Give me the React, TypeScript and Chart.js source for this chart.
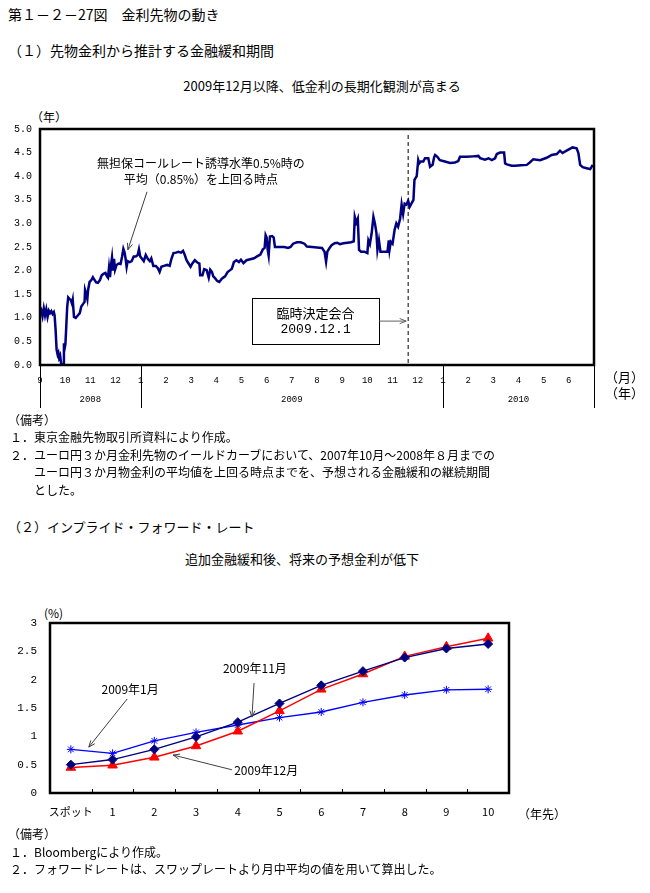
import React, { useEffect, useRef } from 'react';
import { Chart, registerables } from 'chart.js';

Chart.register(...registerables);

const JP = '"Noto Sans CJK JP", "Noto Sans", sans-serif';
const MONO = '"Liberation Mono", "DejaVu Sans Mono", monospace';

// ---------------- Panel (1) data ----------------
// x: months elapsed since 2008-09-01, y: implied easing period (years)
const FUTURES_MONTH = [
  0.00, 0.05, 0.10, 0.15, 0.20, 0.25, 0.30, 0.35, 0.40, 0.45, 0.50, 0.55, 0.58, 0.62, 0.66, 0.70, 0.73, 0.76, 0.80, 0.84,
  0.88, 0.93, 0.95, 0.98, 1.01, 1.04, 1.08, 1.12, 1.17, 1.22, 1.27, 1.30, 1.35, 1.42, 1.50, 1.58, 1.64, 1.72, 1.77, 1.79,
  1.84, 1.88, 1.91, 1.97, 2.04, 2.10, 2.17, 2.23, 2.30, 2.38, 2.45, 2.52, 2.60, 2.66, 2.70, 2.74, 2.78, 2.82, 2.86, 2.90,
  2.94, 2.98, 3.04, 3.12, 3.20, 3.26, 3.31, 3.36, 3.40, 3.44, 3.48, 3.56, 3.64, 3.72, 3.80, 3.88, 3.93, 3.98, 4.05, 4.12,
  4.20, 4.28, 4.36, 4.42, 4.50, 4.60, 4.68, 4.75, 4.82, 4.92, 5.05, 5.15, 5.22, 5.30, 5.40, 5.50, 5.60, 5.68, 5.75, 5.82,
  5.90, 5.98, 6.05, 6.15, 6.25, 6.33, 6.36, 6.45, 6.52, 6.62, 6.70, 6.76, 6.83, 6.88, 6.95, 7.04, 7.12, 7.22, 7.35, 7.45,
  7.55, 7.62, 7.70, 7.80, 7.90, 7.98, 8.08, 8.20, 8.35, 8.50, 8.62, 8.75, 8.85, 8.92, 8.96, 9.00, 9.04, 9.08, 9.13, 9.22,
  9.28, 9.33, 9.50, 9.70, 9.85, 9.95, 10.05, 10.20, 10.35, 10.50, 10.60, 10.80, 11.00, 11.20, 11.30, 11.36, 11.41, 11.50, 11.58, 11.70,
  11.80, 11.91, 12.05, 12.20, 12.35, 12.46, 12.50, 12.56, 12.62, 12.67, 12.75, 12.88, 13.00, 13.04, 13.10, 13.17, 13.24, 13.30, 13.36, 13.40,
  13.46, 13.52, 13.65, 13.80, 13.85, 13.88, 13.93, 14.00, 14.08, 14.15, 14.22, 14.30, 14.36, 14.42, 14.48, 14.55, 14.62, 14.68, 14.76, 14.83,
  14.87, 14.96, 15.02, 15.06, 15.12, 15.22, 15.29, 15.42, 15.49, 15.59, 15.65, 15.69, 15.78, 15.88, 16.08, 16.28, 16.48, 16.61, 16.68, 16.94,
  17.20, 17.41, 17.48, 17.67, 17.81, 17.94, 18.07, 18.14, 18.27, 18.43, 18.47, 18.54, 18.73, 18.86, 19.10, 19.33, 19.45, 19.59, 19.86, 20.12,
  20.32, 20.52, 20.65, 20.75, 20.91, 21.15, 21.31, 21.38, 21.45, 21.55, 21.71, 21.85, 21.95,
];
const FUTURES_YEARS = [
  1.08, 1.15, 1.03, 1.20, 1.05, 1.18, 1.02, 1.15, 1.10, 1.14, 1.08, 1.12, 1.05, 0.74, 0.32, 0.22, 0.26, 0.15, 0.20, 0.03,
  0.00, 0.00, 0.46, 0.36, 0.45, 0.78, 1.23, 1.43, 1.40, 1.38, 1.30, 1.38, 1.02, 1.00, 1.05, 1.10, 1.24, 1.30, 1.34, 1.59,
  1.50, 1.40, 1.59, 1.76, 1.80, 1.86, 1.80, 1.75, 1.74, 1.80, 1.90, 1.93, 1.95, 1.88, 1.85, 2.06, 1.86, 2.12, 2.28, 2.00,
  2.25, 2.02, 2.12, 2.15, 2.14, 2.30, 2.46, 2.38, 2.25, 2.08, 2.20, 2.18, 2.20, 2.30, 2.30, 2.33, 2.45, 2.30, 2.25, 2.20,
  2.33, 2.25, 2.20, 2.26, 2.10, 2.10, 2.05, 1.97, 2.08, 2.10, 2.12, 2.10, 2.25, 2.37, 2.38, 2.40, 2.38, 2.42, 2.33, 2.22,
  2.15, 2.08, 2.15, 2.22, 2.17, 2.15, 1.90, 1.90, 2.03, 2.01, 1.85, 2.02, 1.97, 1.88, 1.84, 1.78, 1.76, 1.83, 1.88, 1.97,
  2.01, 2.04, 2.18, 2.22, 2.18, 2.23, 2.16, 2.22, 2.24, 2.26, 2.30, 2.34, 2.45, 2.48, 2.75, 2.70, 2.45, 2.32, 2.72, 2.73,
  2.70, 2.50, 2.50, 2.50, 2.48, 2.50, 2.57, 2.60, 2.60, 2.57, 2.51, 2.50, 2.49, 2.48, 2.40, 2.19, 2.40, 2.48, 2.54, 2.58,
  2.59, 2.56, 2.58, 2.59, 2.60, 2.62, 3.14, 3.02, 3.10, 2.44, 2.40, 2.40, 2.37, 2.64, 2.56, 2.79, 3.14, 3.00, 2.80, 2.44,
  2.64, 2.40, 2.40, 2.40, 2.64, 2.44, 2.61, 2.57, 2.86, 3.00, 2.93, 3.10, 3.40, 3.20, 3.42, 3.40, 3.48, 3.35, 3.43, 3.50,
  3.92, 4.00, 4.34, 4.27, 4.31, 4.31, 4.38, 4.38, 4.20, 4.24, 4.40, 4.45, 4.41, 4.34, 4.31, 4.28, 4.29, 4.32, 4.41, 4.41,
  4.42, 4.43, 4.38, 4.35, 4.38, 4.34, 4.38, 4.47, 4.50, 4.50, 4.27, 4.25, 4.22, 4.22, 4.23, 4.24, 4.29, 4.36, 4.34, 4.39,
  4.45, 4.47, 4.54, 4.49, 4.54, 4.61, 4.59, 4.49, 4.24, 4.19, 4.17, 4.15, 4.24,
];
const MONTH_LABELS = ['9', '10', '11', '12', '1', '2', '3', '4', '5', '6', '7', '8', '9', '10', '11', '12', '1', '2', '3', '4', '5', '6', ''];
const YEAR_LABELS = ['2008', '2009', '2010'];
const YEAR_BOUNDS = [0, 4, 16, 22];
const EVENT_MONTH = 14.62;
const EVENT_TEXT = ['臨時決定会合', '2009.12.1'];
const CROSS_TEXT = ['無担保コールレート誘導水準0.5%時の', '平均（0.85%）を上回る時点'];

// ---------------- Panel (2) data ----------------
const FWD_CATEGORIES = ['スポット', '1', '2', '3', '4', '5', '6', '7', '8', '9', '10'];
const FWD_NOV09 = [0.50, 0.59, 0.77, 0.99, 1.25, 1.58, 1.90, 2.15, 2.39, 2.55, 2.63];
const FWD_DEC09 = [0.45, 0.49, 0.63, 0.83, 1.09, 1.45, 1.83, 2.10, 2.41, 2.58, 2.73];
const FWD_JAN09 = [0.77, 0.70, 0.92, 1.07, 1.20, 1.33, 1.43, 1.60, 1.73, 1.82, 1.83];
const FWD_NAMES = ['2009年11月', '2009年12月', '2009年1月'];

function drawArrow(ctx: CanvasRenderingContext2D, x1: number, y1: number, x2: number, y2: number, color: string) {
  ctx.save();
  ctx.strokeStyle = color;
  ctx.lineWidth = 1;
  ctx.beginPath();
  ctx.moveTo(x1, y1);
  ctx.lineTo(x2, y2);
  ctx.stroke();
  const ang = Math.atan2(y2 - y1, x2 - x1);
  const h = 7;
  ctx.beginPath();
  ctx.moveTo(x2 - h * Math.cos(ang - 0.38), y2 - h * Math.sin(ang - 0.38));
  ctx.lineTo(x2, y2);
  ctx.lineTo(x2 - h * Math.cos(ang + 0.38), y2 - h * Math.sin(ang + 0.38));
  ctx.stroke();
  ctx.restore();
}

const panel1Deco = {
  id: 'panel1Deco',
  beforeDatasetsDraw(chart: any) {
    const { ctx, chartArea: a, scales } = chart;
    const ex = scales.x.getPixelForValue(EVENT_MONTH);
    ctx.save();
    ctx.strokeStyle = '#000';
    ctx.lineWidth = 1;
    ctx.setLineDash([4, 3]);
    ctx.beginPath();
    ctx.moveTo(ex, a.top + 6);
    ctx.lineTo(ex, a.bottom);
    ctx.stroke();
    ctx.restore();
  },
  afterDatasetsDraw(chart: any) {
    const { ctx, chartArea: a, scales } = chart;
    const x = scales.x;
    const y = scales.y;
    ctx.save();
    // frame
    ctx.strokeStyle = '#000';
    ctx.lineWidth = 2.5;
    ctx.strokeRect(a.left, a.top, a.right - a.left, a.bottom - a.top);
    // year row
    ctx.lineWidth = 1;
    YEAR_BOUNDS.forEach((b) => {
      const px = Math.round(x.getPixelForValue(b)) + 0.5;
      ctx.beginPath();
      ctx.moveTo(px, a.bottom);
      ctx.lineTo(px, a.bottom + 43);
      ctx.stroke();
    });
    ctx.fillStyle = '#000';
    ctx.font = `9px ${MONO}`;
    ctx.textAlign = 'center';
    ctx.textBaseline = 'middle';
    YEAR_LABELS.forEach((lab, i) => {
      const mid = (x.getPixelForValue(YEAR_BOUNDS[i]) + x.getPixelForValue(YEAR_BOUNDS[i + 1])) / 2;
      ctx.fillText(lab, mid, a.bottom + 35);
    });
    // crossing-point annotation
    ctx.font = `12px ${JP}`;
    ctx.fillText(CROSS_TEXT[0], x.getPixelForValue(6.39), y.getPixelForValue(4.28));
    ctx.fillText(CROSS_TEXT[1], x.getPixelForValue(6.39), y.getPixelForValue(3.94));
    drawArrow(ctx, x.getPixelForValue(4.25), y.getPixelForValue(3.67), x.getPixelForValue(3.49), y.getPixelForValue(2.44), '#404040');
    // event box
    const bx1 = x.getPixelForValue(8.42);
    const bx2 = x.getPixelForValue(13.47);
    const by1 = y.getPixelForValue(1.42);
    const by2 = y.getPixelForValue(0.44);
    ctx.fillStyle = '#fff';
    ctx.fillRect(bx1, by1, bx2 - bx1, by2 - by1);
    ctx.strokeStyle = '#000';
    ctx.lineWidth = 1;
    ctx.strokeRect(Math.round(bx1) + 0.5, Math.round(by1) + 0.5, Math.round(bx2 - bx1), Math.round(by2 - by1));
    ctx.fillStyle = '#000';
    ctx.font = `13px ${JP}`;
    ctx.fillText(EVENT_TEXT[0], (bx1 + bx2) / 2, y.getPixelForValue(1.10));
    ctx.font = `13px ${MONO}`;
    ctx.fillText(EVENT_TEXT[1], (bx1 + bx2) / 2, y.getPixelForValue(0.76));
    drawArrow(ctx, bx2, y.getPixelForValue(0.93), x.getPixelForValue(EVENT_MONTH) - 2, y.getPixelForValue(0.93), '#606060');
    ctx.restore();
  },
};

const panel2Deco = {
  id: 'panel2Deco',
  afterDatasetsDraw(chart: any) {
    const { ctx, chartArea: a, scales } = chart;
    const x = scales.x;
    const y = scales.y;
    ctx.save();
    ctx.strokeStyle = '#000';
    ctx.lineWidth = 2.5;
    ctx.strokeRect(a.left, a.top, a.right - a.left, a.bottom - a.top);
    ctx.lineWidth = 1;
    for (let i = 1; i < FWD_CATEGORIES.length; i++) {
      const px = Math.round(x.getPixelForValue(i - 0.5)) + 0.5;
      ctx.beginPath();
      ctx.moveTo(px, a.bottom);
      ctx.lineTo(px, a.bottom - 4);
      ctx.stroke();
    }
    ctx.fillStyle = '#000';
    ctx.font = `12px ${JP}`;
    ctx.textAlign = 'center';
    ctx.textBaseline = 'middle';
    ctx.fillText(FWD_NAMES[2], x.getPixelForValue(1.42), y.getPixelForValue(1.82));
    drawArrow(ctx, x.getPixelForValue(1.35), y.getPixelForValue(1.66), x.getPixelForValue(0.43), y.getPixelForValue(0.81), '#404040');
    ctx.fillText(FWD_NAMES[0], x.getPixelForValue(4.41), y.getPixelForValue(2.2));
    drawArrow(ctx, x.getPixelForValue(4.39), y.getPixelForValue(1.94), x.getPixelForValue(4.34), y.getPixelForValue(1.34), '#404040');
    ctx.fillText(FWD_NAMES[1], x.getPixelForValue(4.68), y.getPixelForValue(0.39));
    drawArrow(ctx, x.getPixelForValue(3.86), y.getPixelForValue(0.41), x.getPixelForValue(2.45), y.getPixelForValue(0.67), '#404040');
    ctx.restore();
  },
};

function Txt(props: { x: number; y: number; size?: number; center?: boolean; children: React.ReactNode }) {
  const size = props.size ?? 12;
  const lh = Math.round(size * 1.4);
  return (
    <div
      style={{
        position: 'absolute',
        left: props.x,
        top: props.y - lh / 2,
        lineHeight: `${lh}px`,
        fontSize: size,
        whiteSpace: 'nowrap',
        transform: props.center ? 'translateX(-50%)' : undefined,
        color: '#000',
      }}
    >
      {props.children}
    </div>
  );
}

export default function App() {
  const c1 = useRef<HTMLCanvasElement>(null);
  const c2 = useRef<HTMLCanvasElement>(null);

  useEffect(() => {
    const ch1 = new Chart(c1.current!, {
      type: 'line',
      data: {
        datasets: [
          {
            data: FUTURES_MONTH.map((m, i) => ({ x: m, y: FUTURES_YEARS[i] })),
            borderColor: '#000080',
            borderWidth: 2.5,
            pointRadius: 0,
            tension: 0,
            fill: false,
          },
        ],
      },
      options: {
        animation: false,
        responsive: false,
        maintainAspectRatio: false,
        layout: { padding: { top: 29, right: 56, left: 0, bottom: 0 } },
        plugins: { legend: { display: false }, tooltip: { enabled: false } },
        scales: {
          x: {
            type: 'linear',
            min: 0,
            max: 22,
            afterFit: (s: any) => { s.height = 55; },
            afterBuildTicks: (s: any) => { s.ticks = MONTH_LABELS.map((_, i) => ({ value: i })); },
            grid: { display: false, drawTicks: false },
            border: { display: false },
            ticks: {
              autoSkip: false,
              maxRotation: 0,
              padding: 10,
              color: '#000',
              font: { family: MONO, size: 9 },
              callback: (v: any) => MONTH_LABELS[Math.round(Number(v))] ?? '',
            },
          },
          y: {
            min: 0,
            max: 5,
            afterFit: (s: any) => { s.width = 40; },
            grid: { display: false, drawTicks: false },
            border: { display: false },
            ticks: {
              stepSize: 0.5,
              padding: 8,
              color: '#000',
              font: { family: MONO, size: 10 },
              callback: (v: any) => Number(v).toFixed(1),
            },
          },
        },
      },
      plugins: [panel1Deco],
    } as any);

    const ch2 = new Chart(c2.current!, {
      type: 'line',
      data: {
        labels: FWD_CATEGORIES,
        datasets: [
          {
            label: FWD_NAMES[0],
            data: FWD_NOV09,
            borderColor: '#000080',
            backgroundColor: '#000080',
            borderWidth: 1.4,
            pointStyle: 'rectRot',
            pointRadius: 4.5,
            pointBorderWidth: 1,
            tension: 0,
          },
          {
            label: FWD_NAMES[1],
            data: FWD_DEC09,
            borderColor: '#FF0000',
            backgroundColor: '#FF0000',
            borderWidth: 1.4,
            pointStyle: 'triangle',
            pointRadius: 5.5,
            pointBorderWidth: 1,
            tension: 0,
          },
          {
            label: FWD_NAMES[2],
            data: FWD_JAN09,
            borderColor: '#0000FF',
            backgroundColor: '#0000FF',
            borderWidth: 1.4,
            pointStyle: 'star',
            pointRadius: 4,
            pointBorderWidth: 1,
            tension: 0,
          },
        ],
      },
      options: {
        animation: false,
        responsive: false,
        maintainAspectRatio: false,
        layout: { padding: { top: 33, right: 141, left: 0, bottom: 0 } },
        plugins: { legend: { display: false }, tooltip: { enabled: false } },
        scales: {
          x: {
            offset: true,
            afterFit: (s: any) => { s.height = 37; },
            grid: { display: false, drawTicks: false },
            border: { display: false },
            ticks: { padding: 12, color: '#000', font: { family: JP, size: 11 }, autoSkip: false, maxRotation: 0 },
          },
          y: {
            min: 0,
            max: 3,
            afterFit: (s: any) => { s.width = 50; },
            grid: { display: false, drawTicks: false },
            border: { display: false },
            ticks: {
              stepSize: 0.5,
              padding: 13,
              color: '#000',
              font: { family: MONO, size: 11 },
              callback: (v: any) => String(Number(v)),
            },
          },
        },
      },
      plugins: [panel2Deco],
    } as any);

    return () => {
      ch1.destroy();
      ch2.destroy();
    };
  }, []);

  return (
    <div
      style={{
        position: 'absolute',
        left: 0,
        top: 0,
        width: 650,
        height: 893,
        background: '#fff',
        fontFamily: JP,
        overflow: 'hidden',
      }}
    >
      <Txt x={8} y={14} size={14}>第１－２－27図　金利先物の動き</Txt>
      <Txt x={8} y={50} size={14}>（１）先物金利から推計する金融緩和期間</Txt>
      <Txt x={322} y={86} size={13} center>2009年12月以降、低金利の長期化観測が高まる</Txt>
      <Txt x={31} y={116} size={12}>（年）</Txt>
      <canvas ref={c1} width={650} height={320} style={{ position: 'absolute', left: 0, top: 100, width: 650, height: 320 }} />
      <Txt x={605} y={377} size={13}>（月）</Txt>
      <Txt x={605} y={393} size={13}>（年）</Txt>
      <Txt x={8} y={419} size={12}>（備考）</Txt>
      <Txt x={10} y={436} size={12}>１．東京金融先物取引所資料により作成。</Txt>
      <Txt x={10} y={454} size={12}>２．ユーロ円３か月金利先物のイールドカーブにおいて、2007年10月～2008年８月までの</Txt>
      <Txt x={34} y={471} size={12}>ユーロ円３か月物金利の平均値を上回る時点までを、予想される金融緩和の継続期間</Txt>
      <Txt x={34} y={489} size={12}>とした。</Txt>
      <Txt x={8} y={527} size={13}>（２）インプライド・フォワード・レート</Txt>
      <Txt x={302} y={559} size={13} center>追加金融緩和後、将来の予想金利が低下</Txt>
      <Txt x={44} y={612} size={12}>(%)</Txt>
      <canvas ref={c2} width={650} height={240} style={{ position: 'absolute', left: 0, top: 590, width: 650, height: 240 }} />
      <Txt x={518} y={813} size={12}>（年先）</Txt>
      <Txt x={8} y={833} size={12}>（備考）</Txt>
      <Txt x={10} y={851} size={12}>１．Bloombergにより作成。</Txt>
      <Txt x={10} y={868} size={12}>２．フォワードレートは、スワップレートより月中平均の値を用いて算出した。</Txt>
    </div>
  );
}
